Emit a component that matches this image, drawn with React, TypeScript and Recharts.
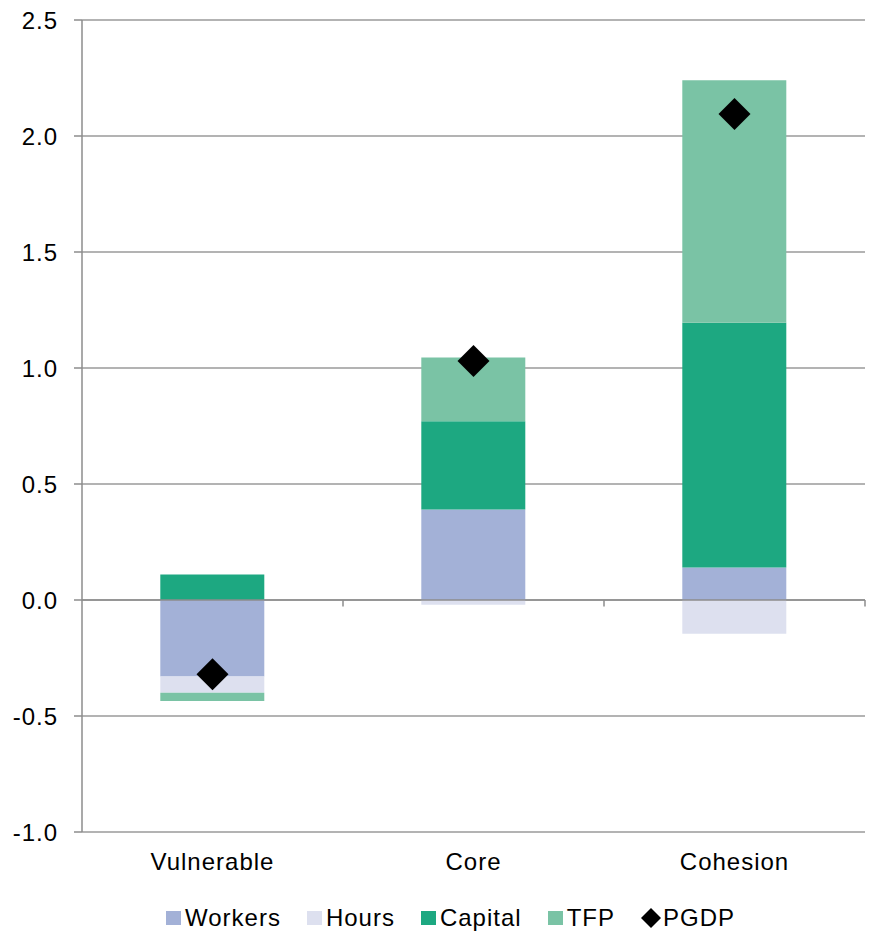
import React from "react"
import {
  ComposedChart,
  Bar,
  Scatter,
  XAxis,
  YAxis,
  CartesianGrid,
  ReferenceLine,
  Legend,
} from "recharts"

const categories = ["Vulnerable", "Core", "Cohesion"]
const workers = [-0.33, 0.39, 0.14]
const hours = [-0.07, -0.02, -0.145]
const capital = [0.11, 0.38, 1.055]
const tfp = [-0.035, 0.275, 1.045]
const pgdp = [-0.32, 1.03, 2.095]
const yTicks = [-1, -0.5, 0, 0.5, 1, 1.5, 2, 2.5]
const legendOrder = ["Workers", "Hours", "Capital", "TFP", "PGDP"]

const FONT = '"Liberation Sans", Arial, sans-serif'
const AXIS = "#8c8c8c"
const GRID = "#9a9a9a"

const data = categories.map((name, i) => ({
  name,
  workers: workers[i],
  hours: hours[i],
  capital: capital[i],
  tfp: tfp[i],
  pgdp: pgdp[i],
}))

function Diamond(props: any) {
  const { cx, cy } = props
  if (cx == null || cy == null) return null
  const r = 16
  return (
    <polygon
      points={`${cx},${cy - r} ${cx + r},${cy} ${cx},${cy + r} ${cx - r},${cy}`}
      fill="#000"
    />
  )
}

function LegendContent(props: any) {
  const items = [...(props.payload || [])].sort(
    (a: any, b: any) => legendOrder.indexOf(a.value) - legendOrder.indexOf(b.value)
  )
  return (
    <div
      style={{
        display: "flex",
        justifyContent: "center",
        alignItems: "center",
        height: 30,
        paddingLeft: 36,
        fontFamily: FONT,
        fontSize: 24,
        letterSpacing: 1,
        color: "#000",
      }}
    >
      {items.map((it: any, i: number) => (
        <div
          key={it.value}
          style={{ display: "flex", alignItems: "center", marginRight: i < items.length - 1 ? 26 : 0 }}
        >
          {it.type === "diamond" ? (
            <svg width={20} height={20} style={{ marginRight: 2 }}>
              <polygon points="10,0 20,10 10,20 0,10" fill="#000" />
            </svg>
          ) : (
            <span
              style={{ width: 15, height: 14, background: it.color, display: "inline-block", marginRight: 4 }}
            />
          )}
          <span>{it.value}</span>
        </div>
      ))}
    </div>
  )
}

export default function App() {
  return (
    <div style={{ position: "absolute", left: 0, top: 0, background: "#fff" }}>
      <ComposedChart
        width={877}
        height={933}
        data={data}
        stackOffset="sign"
        barCategoryGap="30%"
        margin={{ top: 20, right: 12, left: 0, bottom: 0 }}
      >
        <CartesianGrid horizontal vertical={false} stroke={GRID} strokeWidth={1.5} />
        <XAxis
          dataKey="name"
          axisLine={false}
          tickLine={false}
          tickSize={0}
          tickMargin={21}
          height={71}
          tick={{ fontSize: 24, fill: "#000", fontFamily: FONT, letterSpacing: 1 }}
        />
        <YAxis
          domain={[-1, 2.5]}
          ticks={yTicks}
          width={82}
          tickFormatter={(v: number) => v.toFixed(1)}
          axisLine={{ stroke: AXIS, strokeWidth: 1.5 }}
          tickLine={{ stroke: AXIS, strokeWidth: 1.5 }}
          tickSize={8}
          tickMargin={16}
          tick={{ fontSize: 24, fill: "#000", fontFamily: FONT, letterSpacing: 1 }}
        />
        <Bar dataKey="workers" name="Workers" stackId="a" fill="#A3B1D7" isAnimationActive={false} />
        <Bar dataKey="hours" name="Hours" stackId="a" fill="#DDE0EF" isAnimationActive={false} />
        <Bar dataKey="capital" name="Capital" stackId="a" fill="#1DA881" isAnimationActive={false} />
        <Bar dataKey="tfp" name="TFP" stackId="a" fill="#7AC3A5" isAnimationActive={false} />
        <ReferenceLine y={0} stroke={AXIS} strokeWidth={1.5} />
        {categories.map((c) => (
          <ReferenceLine
            key={c}
            position="end"
            segment={[
              { x: c, y: 0 },
              { x: c, y: -0.028 },
            ]}
            stroke={AXIS}
            strokeWidth={1.5}
            ifOverflow="visible"
          />
        ))}
        <Scatter
          dataKey="pgdp"
          name="PGDP"
          fill="#000"
          legendType="diamond"
          shape={Diamond}
          isAnimationActive={false}
        />
        <Legend verticalAlign="bottom" height={30} content={LegendContent} />
      </ComposedChart>
    </div>
  )
}
